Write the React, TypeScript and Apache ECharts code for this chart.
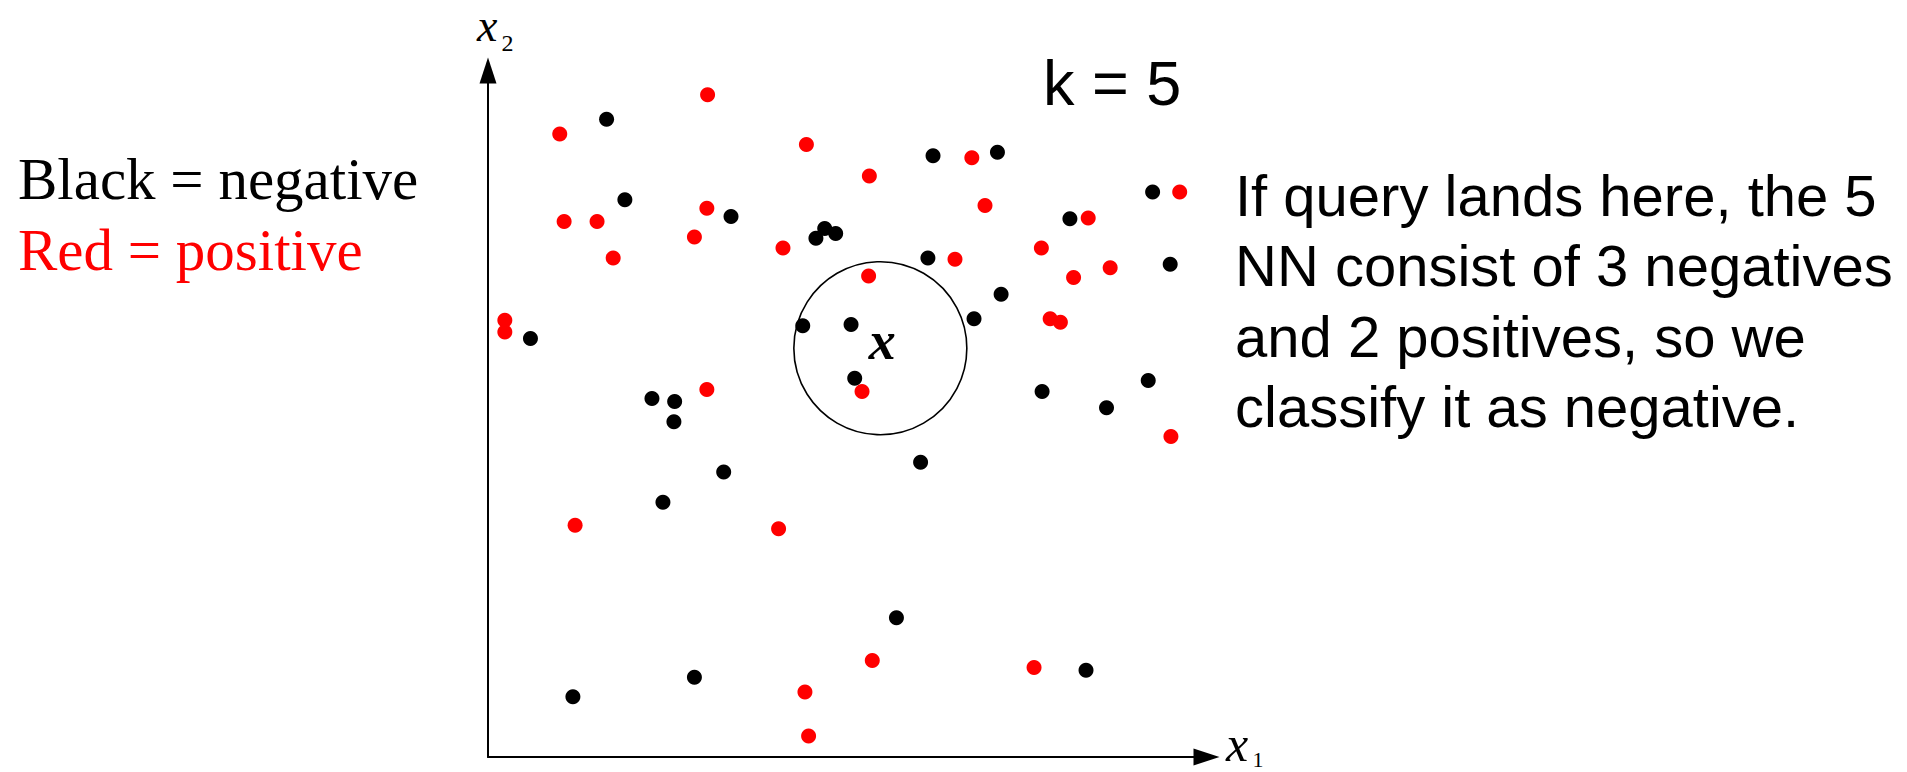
import { useEffect, useRef } from "react";
import * as echarts from "echarts";

// Feature-space coordinates (x1, x2) of the labelled training examples.
const negativePoints: [number, number][] = [
  [16.2, 91.1], [60.8, 85.9], [69.6, 86.4], [18.7, 79.6], [33.2, 77.2],
  [44.8, 74.1], [46.0, 75.5], [47.5, 74.8], [79.5, 76.9], [90.8, 80.7],
  [60.1, 71.3], [93.2, 70.4], [70.1, 66.1], [66.4, 62.6], [43.0, 61.6],
  [49.6, 61.8], [50.1, 54.1], [5.8, 59.8], [22.4, 51.2], [25.5, 50.8],
  [25.4, 47.9], [32.2, 40.7], [23.9, 36.4], [59.1, 42.1], [75.7, 52.2],
  [84.5, 49.9], [90.2, 53.8], [55.8, 19.9], [28.2, 11.4], [11.6, 8.6],
  [81.7, 12.4],
];

const positivePoints: [number, number][] = [
  [30.0, 94.6], [9.8, 89.0], [43.5, 87.5], [52.1, 83.0], [66.1, 85.6],
  [67.9, 78.8], [29.9, 78.4], [10.4, 76.5], [14.9, 76.5], [17.1, 71.3],
  [28.2, 74.3], [40.3, 72.7], [52.0, 68.7], [63.8, 71.1], [75.6, 72.7],
  [82.0, 77.0], [80.0, 68.5], [85.0, 69.9], [94.5, 80.7], [2.3, 62.4],
  [2.3, 60.7], [76.8, 62.6], [78.2, 62.1], [29.9, 52.5], [51.1, 52.2],
  [93.3, 45.8], [11.9, 33.1], [39.7, 32.6], [52.5, 13.8], [74.6, 12.8],
  [43.3, 9.3], [43.8, 3.0],
];

// The query point whose neighbourhood is circled.
const queryPoint: [number, number] = [53.6, 58.4];

const seriesNames = ["Black = negative", "Red = positive"];
const kValue = 5;
const explanation = [
  "If query lands here, the 5",
  "NN consist of 3 negatives",
  "and 2 positives, so we",
  "classify it as negative.",
];
const axisVariable = "x";
const axisIndices = ["1", "2"];
const axisRanges = { x1Max: 98.16, x2Max: 98.07 };

const SANS = "'Liberation Sans', Arial, Helvetica, sans-serif";
const SERIF = "'Liberation Serif', 'Times New Roman', Times, serif";

const axisCommon = {
  type: "value" as const,
  min: 0,
  axisLine: {
    show: true,
    onZero: false,
    symbol: ["none", "triangle"],
    symbolSize: [17, 26],
    lineStyle: { color: "#000", width: 2 },
  },
  axisTick: { show: false },
  axisLabel: { show: false },
  splitLine: { show: false },
};

// Italic axis variable with its subscript index, placed by its baseline.
const axisLabel = (
  x: number,
  baseline: number,
  index: string,
  size: number,
  subSize: number,
  subDrop: number,
) => [
  {
    type: "text",
    x,
    y: baseline - 0.3375 * size,
    silent: true,
    style: {
      text: axisVariable,
      fontFamily: SERIF,
      fontStyle: "italic",
      fontSize: size,
      lineHeight: size,
      verticalAlign: "middle",
      fill: "#000",
    },
  },
  {
    type: "text",
    x: x + 0.53 * size,
    y: baseline + subDrop - 0.3375 * subSize,
    silent: true,
    style: {
      text: index,
      fontFamily: SERIF,
      fontSize: subSize,
      lineHeight: subSize,
      verticalAlign: "middle",
      fill: "#000",
    },
  },
];

export default function App() {
  const ref = useRef<HTMLDivElement>(null);

  useEffect(() => {
    if (!ref.current) return;
    const chart = echarts.init(ref.current, undefined, { renderer: "svg" });

    chart.setOption({
      animation: false,
      backgroundColor: "#ffffff",
      textStyle: { fontFamily: SANS },
      grid: {
        left: 488,
        right: 700.5,
        top: 70.5,
        bottom: 15,
        containLabel: false,
        outerBoundsMode: "none",
      },
      title: {
        text: `k = ${kValue}`,
        left: 1043,
        top: 51.7,
        padding: 0,
        textStyle: {
          fontFamily: SANS,
          fontSize: 63,
          lineHeight: 63,
          fontWeight: "normal",
          color: "#000",
        },
      },
      legend: {
        orient: "vertical",
        left: 13,
        top: 149.5,
        padding: 0,
        itemGap: 12,
        itemWidth: 0,
        itemHeight: 59,
        icon: "none",
        selectedMode: false,
        textStyle: {
          fontFamily: SERIF,
          fontSize: 59,
          lineHeight: 59,
        },
        data: [
          { name: seriesNames[0], textStyle: { color: "#000000" } },
          { name: seriesNames[1], textStyle: { color: "#ff0000" } },
        ],
      },
      xAxis: { ...axisCommon, max: axisRanges.x1Max },
      yAxis: { ...axisCommon, max: axisRanges.x2Max },
      graphic: [
        ...axisLabel(1226, 761, axisIndices[0], 50, 22, 6),
        ...axisLabel(477, 41, axisIndices[1], 46, 24, 10),
        {
          type: "text",
          x: 1235,
          y: 160,
          silent: true,
          style: {
            text: explanation.join("\n"),
            fontFamily: SANS,
            fontSize: 58,
            lineHeight: 70.5,
            fill: "#000",
          },
        },
      ],
      series: [
        {
          name: "query",
          type: "scatter",
          data: [queryPoint],
          symbol: "circle",
          symbolSize: 173,
          silent: true,
          z: 1,
          itemStyle: {
            color: "rgba(0,0,0,0)",
            borderColor: "#000",
            borderWidth: 1.6,
            opacity: 1,
          },
          label: {
            show: true,
            position: "inside",
            formatter: axisVariable,
            fontFamily: SERIF,
            fontStyle: "italic",
            fontWeight: "bold",
            fontSize: 54,
            color: "#000",
            offset: [2, -7],
          },
        },
        {
          name: seriesNames[0],
          type: "scatter",
          data: negativePoints,
          symbol: "circle",
          symbolSize: 15,
          z: 3,
          itemStyle: { color: "#000000", opacity: 1 },
        },
        {
          name: seriesNames[1],
          type: "scatter",
          data: positivePoints,
          symbol: "circle",
          symbolSize: 15,
          z: 4,
          itemStyle: { color: "#ff0000", opacity: 1 },
        },
      ],
    });

    return () => chart.dispose();
  }, []);

  return (
    <div
      ref={ref}
      style={{ position: "fixed", left: 0, top: 0, width: 1907, height: 772 }}
    />
  );
}
